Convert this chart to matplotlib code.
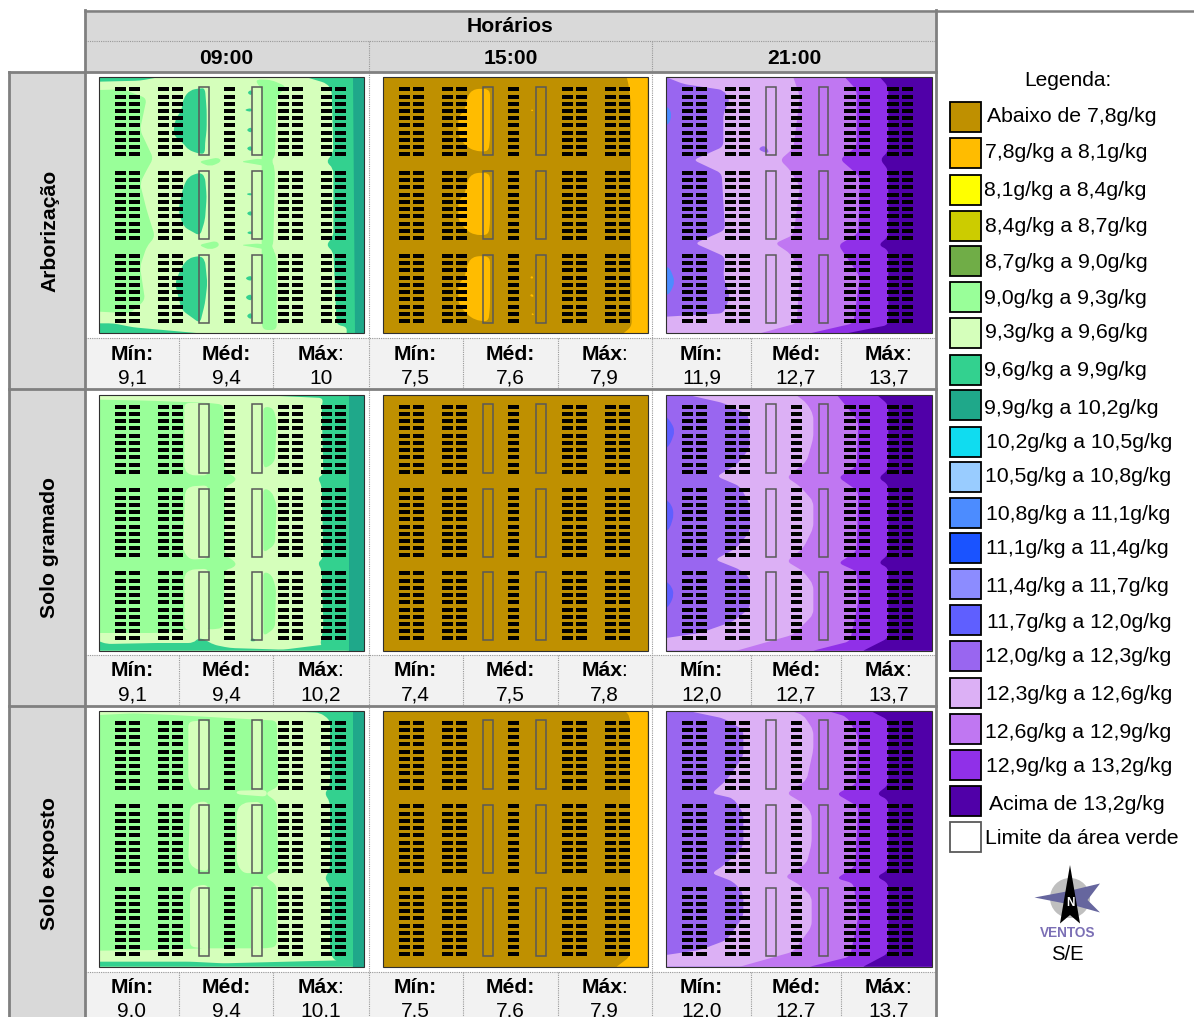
import matplotlib
matplotlib.use('Agg')
import matplotlib.pyplot as plt
from matplotlib.patches import Rectangle, Polygon, PathPatch
from matplotlib.path import Path

plt.rcParams['font.family'] = ['Liberation Sans', 'DejaVu Sans']

# ---- data ----
HOURS = ['09:00', '15:00', '21:00']
ROW_NAMES = ['Arborização', 'Solo gramado', 'Solo exposto']
MIN_VALUES = [['9,1', '7,5', '11,9'], ['9,1', '7,4', '12,0'], ['9,0', '7,5', '12,0']]
MED_VALUES = [['9,4', '7,6', '12,7'], ['9,4', '7,5', '12,7'], ['9,4', '7,6', '12,7']]
MAX_VALUES = [['10', '7,9', '13,7'], ['10,2', '7,8', '13,7'], ['10,1', '7,9', '13,7']]

LEGEND_LABELS = ['Abaixo de 7,8g/kg', '7,8g/kg a 8,1g/kg', '8,1g/kg a 8,4g/kg', '8,4g/kg a 8,7g/kg',
                 '8,7g/kg a 9,0g/kg', '9,0g/kg a 9,3g/kg', '9,3g/kg a 9,6g/kg', '9,6g/kg a 9,9g/kg',
                 '9,9g/kg a 10,2g/kg', '10,2g/kg a 10,5g/kg', '10,5g/kg a 10,8g/kg', '10,8g/kg a 11,1g/kg',
                 '11,1g/kg a 11,4g/kg', '11,4g/kg a 11,7g/kg', '11,7g/kg a 12,0g/kg', '12,0g/kg a 12,3g/kg',
                 '12,3g/kg a 12,6g/kg', '12,6g/kg a 12,9g/kg', '12,9g/kg a 13,2g/kg', 'Acima de 13,2g/kg',
                 'Limite da área verde']
LEGEND_COLORS = ['#BF9000', '#FFBC00', '#FFFF00', '#CCCC00', '#70AD47', '#99FF99', '#D5FFBB', '#33D18F',
                 '#1FA88A', '#10DCF0', '#99CCFF', '#4C8CFF', '#1A53FF', '#8C8CFF', '#5F5FFF', '#9966F0',
                 '#DCB0F5', '#C077F2', '#9030E8', '#5000A8', '#FFFFFF']
LEGEND_Y = [117, 153, 190, 226, 261, 297, 333, 370, 405, 442, 477, 513, 548, 584, 620, 656, 693, 729, 765, 801, 837]
LEGEND_TEXT_Y = [116, 153, 190, 227, 262, 299, 333, 371, 408, 443, 477, 515, 549, 586, 622, 657, 695, 732, 766, 804, 838]
LEGEND_TEXT_X = [987, 985, 984, 985, 985, 984, 985, 984, 984, 986, 985, 986, 986, 986, 987, 985, 986, 985, 986, 989, 985]

# colour classes of the maps, named by lower limit
C78, C90, C93, C96, C99 = '#FFBC00', '#99FF99', '#D5FFBB', '#33D18F', '#1FA88A'
C108, C117, C120, C123, C126, C129, C132 = '#4C8CFF', '#5F5FFF', '#9966F0', '#DCB0F5', '#C077F2', '#9030E8', '#5000A8'
C_BASE_15 = '#BF9000'

# map panels on the page: left, right, top, bottom
PANEL_X = [(99.3, 363.7), (383.3, 647.7), (666.0, 932.0)]
PANEL_Y = [(77.3, 333.3), (394.7, 650.7), (710.7, 966.7)]
# origin of the 3x reading grid the zone outlines were taken on
GRID_X = [90, 375, 650]
GRID_Y = [70, 388, 700]

# building bars and green area limits, pixels from the panel corner
BAR_X = [(15.7, 26.7), (30, 41), (58.7, 70), (72.7, 84), (125, 136), (178.3, 189.7), (193, 204), (221.3, 232.7), (235.7, 247)]
BAR_ROW_TOP = [12, 95.7, 178.7]
BAR_COUNT = 10
BAR_STEP = 7.23
AREA_X = [(99.7, 109.7), (152.7, 162.3)]
AREA_Y = [(9.5, 78), (94, 162), (177.5, 245.5)]

# zones: (colour, outline) painted in order over the base colour
Z11 = [
    (C90, [(28, 60), (100, 58), (170, 85), (150, 180), (190, 265), (170, 300), (150, 340), (170, 420), (195, 500),
           (170, 530), (150, 590), (165, 690), (120, 730), (28, 725)]),
    (C90, [(500, 28), (545, 30), (590, 50), (560, 80), (555, 260), (545, 270), (555, 300), (550, 520), (545, 530),
           (560, 560), (560, 780), (520, 780), (515, 760), (515, 55), (500, 40)]),
    (C90, [(450, 275), (510, 265), (545, 275), (555, 295), (510, 285)]),
    (C90, [(450, 525), (510, 520), (545, 530), (555, 545), (510, 535)]),
    (C90, [(325, 275), (385, 262), (395, 275), (360, 290)]),
    (C90, [(325, 525), (380, 512), (390, 528), (360, 540)]),
    (C96, [(28, 22), (205, 22), (150, 32), (28, 35)]),
    (C96, [(650, 22), (795, 22), (795, 790), (770, 790), (770, 770), (740, 765), (730, 545), (708, 525), (730, 500),
           (730, 295), (708, 275), (730, 250), (725, 60), (710, 40)]),
    (C96, [(28, 760), (70, 760), (130, 772), (330, 790), (28, 790)]),
    (C96, [(330, 55), (300, 60), (280, 85), (275, 120), (255, 150), (250, 195), (280, 220), (295, 240), (330, 252),
           (345, 250), (345, 220), (350, 180), (350, 120), (345, 55)]),
    (C96, [(330, 307), (295, 320), (280, 350), (265, 420), (280, 470), (330, 498), (345, 450), (350, 380), (345, 320)]),
    (C96, [(330, 557), (295, 565), (275, 590), (255, 640), (275, 720), (330, 760), (345, 700), (352, 640), (345, 570)]),
    (C96, [(470, 68), (486, 58), (486, 78)]), (C96, [(460, 120), (486, 113), (486, 127)]),
    (C96, [(467, 180), (486, 170), (486, 190)]), (C96, [(467, 235), (486, 226), (486, 246)]),
    (C96, [(465, 372), (486, 368), (486, 378)]), (C96, [(467, 430), (486, 421), (486, 440)]),
    (C96, [(467, 488), (486, 482), (486, 495)]), (C96, [(462, 625), (486, 615), (486, 635)]),
    (C96, [(462, 682), (486, 670), (486, 695)]), (C96, [(467, 738), (486, 726), (486, 750)]),
    (C99, [(790, 22), (821, 22), (821, 790), (795, 790)]),
]
Z21 = [
    (C90, [(28, 35), (180, 38), (360, 45), (400, 50), (405, 250), (440, 270), (430, 285), (405, 295), (405, 500),
           (440, 525), (430, 540), (405, 545), (400, 720), (360, 725), (340, 720), (200, 735), (28, 735)]),
    (C93, [(283, 45), (355, 45), (355, 262), (300, 262), (283, 245)]),
    (C93, [(285, 310), (300, 295), (355, 292), (355, 512), (300, 515), (280, 490)]),
    (C93, [(283, 560), (300, 545), (355, 542), (355, 730), (283, 725)]),
    (C90, [(520, 55), (550, 60), (560, 100), (555, 220), (530, 240), (520, 235)]),
    (C90, [(520, 300), (545, 310), (560, 350), (555, 470), (520, 495)]),
    (C90, [(520, 550), (545, 560), (558, 600), (555, 720), (520, 745)]),
    (C96, [(480, 20), (700, 30), (695, 55), (700, 260), (683, 270), (695, 292), (700, 510), (683, 525), (695, 545),
           (700, 720), (690, 775), (780, 788), (780, 20)]),
    (C96, [(28, 760), (50, 768), (200, 765), (310, 765), (325, 750), (345, 755), (370, 770), (420, 780), (580, 785),
           (700, 770), (780, 770), (780, 788), (28, 788)]),
    (C96, [(478, 760), (488, 748), (500, 760)]),
    (C99, [(778, 20), (821, 20), (821, 788), (778, 788)]),
]
Z31 = [
    (C90, [(28, 45), (130, 40), (250, 45), (560, 62), (565, 260), (525, 280), (560, 305), (565, 510), (525, 530),
           (560, 555), (560, 740), (530, 745), (360, 745), (340, 745), (200, 750), (28, 752)]),
    (C93, [(295, 65), (355, 60), (355, 270), (310, 268), (295, 240)]),
    (C93, [(300, 320), (325, 305), (355, 305), (355, 515), (310, 505), (295, 480)]),
    (C93, [(300, 570), (325, 555), (355, 555), (355, 770), (340, 745), (300, 740)]),
    (C93, [(483, 60), (513, 60), (513, 272), (483, 270)]),
    (C93, [(440, 330), (460, 308), (513, 305), (513, 518), (460, 520), (440, 490)]),
    (C93, [(483, 557), (513, 557), (513, 770), (483, 770)]),
    (C93, [(440, 272), (530, 270), (530, 290), (440, 283)]),
    (C96, [(555, 32), (790, 32), (790, 800), (740, 785), (725, 770), (720, 750), (720, 555), (703, 535), (720, 510),
           (720, 305), (703, 280), (720, 260), (720, 60), (690, 38)]),
    (C96, [(28, 785), (300, 785), (400, 790), (790, 780), (790, 800), (28, 800)]),
    (C99, [(790, 32), (821, 32), (821, 800), (790, 800)]),
]
Z12 = [
    (C78, [(755, 22), (818, 22), (818, 790), (745, 790), (770, 770), (768, 500), (768, 100), (760, 40)]),
    (C78, [(320, 55), (290, 60), (275, 85), (270, 120), (250, 140), (250, 200), (275, 230), (300, 243), (340, 245),
           (345, 210), (345, 120), (345, 60)]),
    (C78, [(320, 307), (290, 312), (275, 337), (270, 372), (250, 392), (250, 452), (275, 482), (300, 495), (340, 495),
           (345, 462), (345, 372), (345, 312)]),
    (C78, [(320, 557), (290, 562), (275, 587), (270, 622), (250, 642), (250, 702), (275, 732), (300, 750), (340, 755),
           (345, 712), (345, 622), (345, 562)]),
    (C78, [(466, 122), (472, 117), (476, 124)]), (C78, [(464, 625), (471, 616), (476, 626)]),
    (C78, [(463, 678), (471, 670), (478, 682)]), (C78, [(468, 734), (473, 728), (478, 736)]),
]
Z22 = []
Z32 = [
    (C78, [(750, 32), (818, 32), (818, 800), (725, 800), (765, 770), (765, 100), (765, 50)]),
]
Z13 = [
    (C108, [(48, 110), (58, 115), (65, 135), (58, 160), (48, 165)]),
    (C108, [(48, 590), (60, 595), (75, 635), (60, 670), (48, 675)]),
    (C123, [(50, 22), (846, 22), (846, 790), (48, 790), (48, 740), (220, 730), (240, 680), (220, 620), (225, 560),
            (135, 520), (225, 480), (215, 310), (130, 270), (220, 230), (220, 130), (240, 90), (220, 60), (100, 42)]),
    (C126, [(430, 22), (846, 22), (846, 790), (330, 790), (440, 760), (450, 600), (420, 550), (375, 520), (430, 495),
            (450, 350), (420, 300), (390, 270), (430, 235), (450, 80)]),
    (C120, [(325, 235), (345, 225), (360, 250), (335, 245)]),
    (C129, [(585, 22), (846, 22), (846, 790), (480, 790), (610, 760), (630, 620), (565, 525), (625, 490), (630, 320),
            (570, 268), (620, 230), (620, 60)]),
    (C132, [(690, 22), (846, 22), (846, 790), (590, 790), (715, 765), (715, 540), (685, 525), (715, 500), (715, 300),
            (690, 268), (715, 245), (715, 50)]),
]
Z23 = [
    (C117, [(48, 85), (65, 105), (75, 130), (60, 170), (48, 180)]),
    (C117, [(48, 335), (65, 350), (72, 380), (60, 420), (48, 430)]),
    (C117, [(48, 580), (65, 595), (72, 620), (60, 650), (48, 660)]),
    (C123, [(110, 20), (846, 20), (846, 788), (48, 788), (48, 750), (150, 735), (250, 700), (300, 660), (300, 570),
            (270, 545), (195, 515), (260, 480), (300, 430), (300, 350), (270, 295), (200, 265), (260, 230), (300, 180),
            (295, 80), (220, 45)]),
    (C126, [(440, 22), (846, 22), (846, 788), (260, 788), (430, 740), (490, 680), (490, 590), (460, 550), (410, 520),
            (460, 480), (490, 420), (490, 340), (450, 295), (410, 268), (470, 220), (490, 150), (490, 80), (470, 45)]),
    (C129, [(560, 20), (846, 20), (846, 788), (490, 788), (600, 760), (625, 640), (620, 550), (565, 525), (620, 490),
            (625, 310), (565, 268), (620, 235), (625, 100), (585, 50)]),
    (C132, [(680, 20), (846, 20), (846, 788), (640, 788), (715, 750), (715, 540), (685, 525), (715, 500), (715, 290),
            (685, 270), (715, 245), (715, 50)]),
]
Z33 = [
    (C123, [(110, 32), (846, 32), (846, 800), (48, 800), (48, 765), (150, 750), (230, 720), (280, 650), (280, 580),
            (250, 545), (185, 520), (230, 490), (280, 440), (280, 340), (250, 295), (185, 280), (230, 240), (280, 170),
            (280, 90), (220, 55)]),
    (C126, [(420, 32), (846, 32), (846, 800), (270, 800), (430, 755), (485, 680), (485, 590), (450, 555), (405, 530),
            (470, 490), (485, 430), (485, 340), (460, 310), (410, 280), (470, 240), (490, 150), (490, 90), (460, 45)]),
    (C129, [(530, 32), (846, 32), (846, 800), (480, 800), (600, 770), (625, 650), (610, 550), (560, 535), (615, 500),
            (625, 320), (560, 282), (620, 250), (625, 110), (590, 50)]),
    (C132, [(660, 32), (846, 32), (846, 800), (640, 800), (715, 760), (715, 550), (680, 530), (715, 510), (715, 300),
            (680, 282), (715, 255), (715, 60)]),
]
ZONES = [[Z11, Z12, Z13], [Z21, Z22, Z23], [Z31, Z32, Z33]]
BASES = [C93, C_BASE_15, C120]

# page layout
STAT_X = [[132, 226.7, 321], [415.7, 510, 604.7], [701.7, 796, 888.3]]
STAT_DIV_X = [(179.3, 273.3), (463.3, 557.7), (750.7, 841.3)]
STAT_TOP = [338, 655, 972]
STAT_BOTTOM = [389, 706, 1017]
LABEL_Y = [354, 671, 987.5]
VALUE_Y = [378, 695, 1011]
ROW_LABEL_Y = [231, 547, 863]
HOUR_X = [226.5, 510.5, 794]

GRAY = '#808080'
DOTS = (0, (1, 1))

fig = plt.figure(figsize=(11.94, 10.17), dpi=100)
ax = fig.add_axes([0, 0, 1, 1])
ax.set_xlim(0, 1194)
ax.set_ylim(1017, 0)
ax.axis('off')


def box(x0, y0, x1, y1, **kw):
    r = Rectangle((x0, y0), x1 - x0, y1 - y0, **kw)
    ax.add_patch(r)
    return r


def rounded(pts, px0, px1, py0, py1, d=5.0):
    # closed outline with its inner corners rounded off, the ones on the panel edge stay sharp
    verts, codes = [], []
    n = len(pts)
    for i in range(n):
        x, y = pts[i]
        xa, ya = pts[i - 1]
        xb, yb = pts[(i + 1) % n]
        la = max(((x - xa) ** 2 + (y - ya) ** 2) ** 0.5, 1e-6)
        lb = max(((x - xb) ** 2 + (y - yb) ** 2) ** 0.5, 1e-6)
        inside = px0 + 1 < x < px1 - 1 and py0 + 1 < y < py1 - 1
        ca = min(d, la / 2) if inside else 0
        cb = min(d, lb / 2) if inside else 0
        start = (x + (xa - x) * ca / la, y + (ya - y) * ca / la)
        end = (x + (xb - x) * cb / lb, y + (yb - y) * cb / lb)
        verts.append(start)
        codes.append(Path.MOVETO if i == 0 else Path.LINETO)
        if inside:
            verts += [(x, y), end]
            codes += [Path.CURVE3, Path.CURVE3]
    verts.append(verts[0])
    codes.append(Path.CLOSEPOLY)
    return Path(verts, codes)


# table background
box(85, 10, 936, 72, fc='#D9D9D9', ec='none', zorder=1)
box(9, 72, 85, 1017, fc='#D9D9D9', ec='none', zorder=1)
for top, bottom in zip(STAT_TOP, STAT_BOTTOM):
    box(85, top, 936, bottom, fc='#F2F2F2', ec='none', zorder=1)

# maps
for r in range(3):
    py0, py1 = PANEL_Y[r]
    for c in range(3):
        px0, px1 = PANEL_X[c]
        frame = box(px0, py0, px1, py1, fc=BASES[c], ec='none', zorder=2)
        for color, outline in ZONES[r][c]:
            pts = [(GRID_X[c] + x / 3, GRID_Y[r] + y / 3) for x, y in outline]
            poly = PathPatch(rounded(pts, px0, px1, py0, py1), fc=color, ec='none', zorder=3)
            ax.add_patch(poly)
            poly.set_clip_path(frame)
        for x0, x1 in BAR_X:
            for top in BAR_ROW_TOP:
                for i in range(BAR_COUNT):
                    y = py0 + top + i * BAR_STEP
                    box(px0 + x0, y - 2, px0 + x1, y + 2, fc='black', ec='none', zorder=4)
        for x0, x1 in AREA_X:
            for y0, y1 in AREA_Y:
                box(px0 + x0, py0 + y0, px0 + x1, py0 + y1, fc='none', ec='#595959', lw=1.1, zorder=5)
        box(px0, py0, px1, py1, fc='none', ec='#303030', lw=0.8, zorder=6)

# dotted rules
ax.plot([85, 936], [41, 41], color='#999999', lw=0.8, ls=DOTS, zorder=7)
for x in [368.5, 652]:
    ax.plot([x, x], [41, 1017], color='#999999', lw=0.8, ls=DOTS, zorder=7)
for top, bottom in zip(STAT_TOP, STAT_BOTTOM):
    ax.plot([85, 936], [top, top], color='#999999', lw=0.8, ls=DOTS, zorder=7)
    for pair in STAT_DIV_X:
        for x in pair:
            ax.plot([x, x], [top, bottom], color='#999999', lw=0.8, ls=DOTS, zorder=7)

# solid rules
ax.plot([85, 1194], [10.5, 10.5], color=GRAY, lw=1.8, zorder=8)
for y in [72, 389, 706]:
    ax.plot([9, 936], [y, y], color=GRAY, lw=2.0, zorder=8)
for x, y0 in [(9, 72), (85, 10), (936, 10)]:
    ax.plot([x, x], [y0, 1017], color=GRAY, lw=2.0, zorder=8)

# table text
ax.text(510.5, 26.5, 'Horários', fontsize=15.2, fontweight='bold', ha='center', va='center', zorder=9)
for x, hour in zip(HOUR_X, HOURS):
    ax.text(x, 58.5, hour, fontsize=15.2, fontweight='bold', ha='center', va='center', zorder=9)
for y, name in zip(ROW_LABEL_Y, ROW_NAMES):
    ax.text(49.5, y, name, fontsize=15.2, fontweight='bold', rotation=90, ha='center', va='center', zorder=9)
for r in range(3):
    for c in range(3):
        x_min, x_med, x_max = STAT_X[c]
        ax.text(x_min, LABEL_Y[r], 'Mín:', fontsize=15.2, fontweight='bold', ha='center', va='center', zorder=9)
        ax.text(x_med, LABEL_Y[r], 'Méd:', fontsize=15.2, fontweight='bold', ha='center', va='center', zorder=9)
        ax.text(x_max + 17.5, LABEL_Y[r], 'Máx', fontsize=15.2, fontweight='bold', ha='right', va='center', zorder=9)
        ax.text(x_max + 16.5, LABEL_Y[r], ':', fontsize=15.2, ha='left', va='center', zorder=9)
        ax.text(x_min, VALUE_Y[r], MIN_VALUES[r][c], fontsize=15, ha='center', va='center', zorder=9)
        ax.text(x_med, VALUE_Y[r], MED_VALUES[r][c], fontsize=15, ha='center', va='center', zorder=9)
        ax.text(x_max, VALUE_Y[r], MAX_VALUES[r][c], fontsize=15, ha='center', va='center', zorder=9)

# legend
ax.text(1068, 81, 'Legenda:', fontsize=15, ha='center', va='center', zorder=9)
for y, ty, tx, color, label in zip(LEGEND_Y, LEGEND_TEXT_Y, LEGEND_TEXT_X, LEGEND_COLORS, LEGEND_LABELS):
    edge = '#595959' if label.startswith('Limite') else 'black'
    box(950, y - 15, 980.5, y + 15, fc=color, ec=edge, lw=1.3, zorder=5)
    ax.text(tx, ty, label, fontsize=15.3, ha='left', va='center', zorder=9)

# wind compass
ax.add_patch(plt.Circle((1070, 898), 20, fc='#BFBFBF', ec='none', zorder=5))
ax.add_patch(Polygon([(1034.5, 897.5), (1066.5, 891.5), (1100, 883.5), (1087.5, 900), (1100, 912.5), (1073, 905), (1065, 903.5)],
                     closed=True, fc='#66669E', ec='none', zorder=6))
ax.add_patch(Polygon([(1070, 865), (1060, 923.5), (1070, 915), (1080, 923.5)], closed=True, fc='black', ec='none', zorder=7))
ax.text(1070, 903, 'N', color='white', fontsize=8.5, fontweight='bold', ha='center', va='center', zorder=9)
ax.text(1067.3, 933, 'VENTOS', color='#7B6FB5', fontsize=9.8, fontweight='bold', ha='center', va='center', zorder=9)
ax.text(1067.3, 954, 'S/E', fontsize=14.6, ha='center', va='center', zorder=9)

fig.savefig('out.png', dpi=100)
